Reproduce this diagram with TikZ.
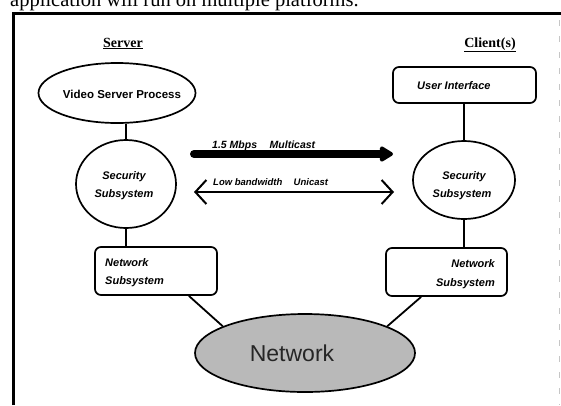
\documentclass[tikz,border=0pt]{standalone}
\usepackage{fontspec}
\setmainfont{Liberation Serif}
\setsansfont{Liberation Sans}
\usetikzlibrary{arrows.meta,shapes.geometric,calc}
\tikzset{
  lbl/.style={font=\sffamily\bfseries\itshape\fontsize{11}{18}\selectfont, inner sep=0pt},
  albl/.style={font=\sffamily\bfseries\itshape\fontsize{9.5}{11}\selectfont, inner sep=0pt, anchor=base west},
  hdr/.style={font=\bfseries\fontsize{14}{15}\selectfont, inner sep=0pt, anchor=base},
  ell/.style={draw, line width=1.7pt, ellipse, inner sep=0pt},
  rbox/.style={draw, line width=1.7pt, rounded corners=6pt, inner sep=0pt},
  conn/.style={line width=1.8pt},
}
\begin{document}
\begin{tikzpicture}[x=1pt,y=-1pt]
\useasboundingbox (0,0) rectangle (561,405);
% cut-off caption line
\node[font=\fontsize{20.5}{22}\selectfont, anchor=base west, inner sep=0pt] (cap) at (10,6) {application will run on multiple platforms.};
% frame
\draw[line width=3pt] (13,405) -- (13,13) -- (561,13);
\draw[gray!45, line width=0.6pt, dash pattern=on 6pt off 10pt] (559,20) -- (559,405);
% headers
\node[hdr] (hs) at (123,47) {\underline{Server}};
\node[hdr] (hc) at (490,47) {\underline{Client(s)}};
% server column
\node[ell, minimum width=157pt, minimum height=60pt] (vsp) at (117,93) {};
\node[font=\sffamily\bfseries\fontsize{11.5}{13}\selectfont, inner sep=0pt] (vspt) at (122,94) {Video Server Process};
\node[ell, minimum width=100pt, minimum height=88pt, align=center] (secL) at (126,184) {};
\node[lbl, anchor=base] (secLa) at (124,179) {Security};
\node[lbl, anchor=base] (secLb) at (124,197) {Subsystem};
\node[rbox, minimum width=122pt, minimum height=48pt] (netL) at (156,271) {};
\node[lbl, anchor=base west] (netLa) at (105,266) {Network};
\node[lbl, anchor=base west] (netLb) at (105,284) {Subsystem};
% client column
\node[rbox, minimum width=143pt, minimum height=36pt] (ui) at (464.5,85) {};
\node[lbl, anchor=base west] (uit) at (417,89) {User Interface};
\node[ell, minimum width=102pt, minimum height=78pt] (secR) at (464,180) {};
\node[lbl, anchor=base] (secRa) at (464,179) {Security};
\node[lbl, anchor=base] (secRb) at (462,197) {Subsystem};
\node[rbox, minimum width=121pt, minimum height=48pt] (netR) at (446.5,272) {};
\node[lbl, anchor=base east] (netRa) at (495,267) {Network};
\node[lbl, anchor=base east] (netRb) at (495,286) {Subsystem};
% network cloud
\node[ell, fill=gray!55, minimum width=220pt, minimum height=78pt] (cloud) at (305,353) {};
\node[font=\sffamily\fontsize{23}{25}\selectfont, text=black!85, inner sep=0pt] (cloudt) at (292,353) {Network};
% vertical connectors
\draw[conn] (vsp.south -| secL.north) -- (secL.north);
\draw[conn] (secL.south) -- (secL.south |- netL.north);
\draw[conn] (ui.south -| secR.north) -- (secR.north);
\draw[conn] (secR.south) -- (secR.south |- netR.north);
% to network
\draw[conn] ([xshift=-29pt]netL.south east) -- (cloud.162);
\draw[conn] ([xshift=36pt]netR.south west) -- (cloud.18);
% arrows
\coordinate (m1) at (194,154);
\coordinate (m2) at (393,154);
\draw[line width=8pt, line cap=round, -{Triangle[length=15pt,width=17pt,round]}] (m1) -- (m2);
\node[albl, font=\sffamily\bfseries\itshape\fontsize{10.5}{11}\selectfont] (mlbl) at (212,148) {1.5 Mbps\hspace{1.2em}Multicast};
\coordinate (u1) at (194,192);
\coordinate (u2) at (394,192);
\draw[line width=2pt, {Straight Barb[length=11pt,width=24pt]}-{Straight Barb[length=11pt,width=24pt]}] (u1) -- (u2);
\node[albl] (ulbl) at (213,185) {Low bandwidth\hspace{1.2em}Unicast};
\end{tikzpicture}
\end{document}
